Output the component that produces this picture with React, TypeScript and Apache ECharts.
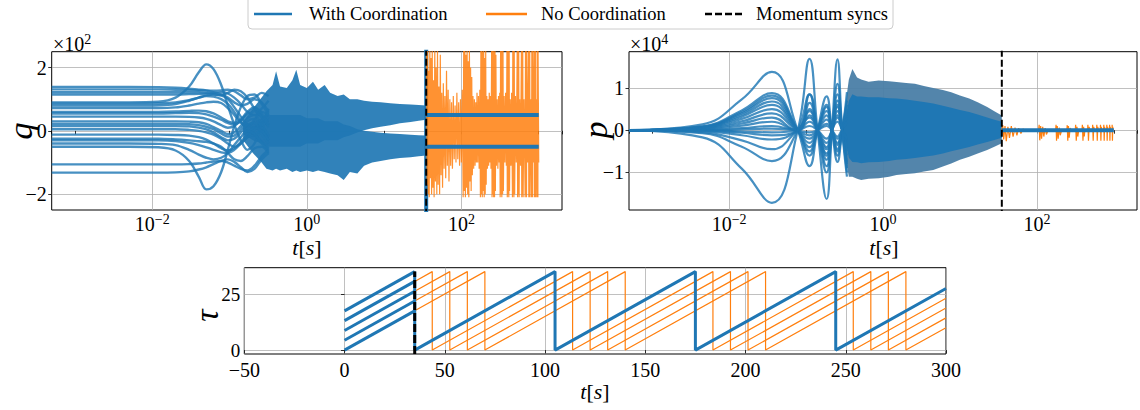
import { useEffect, useRef } from 'react';
import * as echarts from 'echarts';

const FONT = "'Liberation Serif', 'DejaVu Serif', serif";
const BLUE = '#1f77b4';
const ORANGE = '#ff7f0e';
const GRID_GRAY = '#b0b0b0';

// Shared time window of the two log-time panels [s]
const T_MIN = 0.0005;
const T_MAX = 2000;
const T_END = 1000;
const SYNC_T = 35;
const LABELLED_DECADES = [0.01, 1, 100];

// ---------- position q, in units of 10^2 ----------
const Q_T = [0.0005, 0.005, 0.012, 0.02, 0.03, 0.04, 0.05, 0.062, 0.078, 0.095, 0.115, 0.14, 0.17, 0.21, 0.26, 0.32];
const Q_AGENTS = [
  [1.39, 1.39, 1.38, 1.36, 1.33, 1.3, 1.28, 1.27, 1.28, 1.3, 1.25, 1.12, 1.0, 1.05, 1.2, 1.1],
  [1.31, 1.31, 1.31, 1.3, 1.29, 1.28, 1.27, 1.22, 1.15, 1.05, 0.9, 0.8, 0.85, 1.0, 0.9, 0.6],
  [1.22, 1.22, 1.22, 1.22, 1.22, 1.22, 1.2, 1.15, 1.12, 1.2, 1.3, 1.25, 1.05, 0.7, 0.4, 0.3],
  [1.15, 1.15, 1.15, 1.15, 1.16, 1.17, 1.18, 1.2, 1.22, 1.18, 1.05, 0.85, 0.6, 0.5, 0.7, 0.95],
  [0.9, 0.9, 0.92, 1.05, 1.4, 1.85, 2.1, 1.95, 1.45, 0.8, 0.2, -0.3, -0.6, -0.4, 0.2, 0.7],
  [0.86, 0.86, 0.87, 0.9, 0.97, 1.05, 1.1, 1.08, 1.0, 0.85, 0.6, 0.3, 0.05, -0.1, 0.1, 0.45],
  [0.8, 0.8, 0.81, 0.85, 0.95, 1.05, 1.12, 1.15, 1.12, 1.0, 0.75, 0.45, 0.2, 0.1, 0.3, 0.6],
  [0.72, 0.72, 0.72, 0.74, 0.8, 0.86, 0.9, 0.92, 0.88, 0.72, 0.5, 0.25, 0.15, 0.35, 0.6, 0.5],
  [0.6, 0.6, 0.6, 0.61, 0.63, 0.64, 0.62, 0.55, 0.42, 0.3, 0.25, 0.35, 0.55, 0.7, 0.5, 0.1],
  [0.55, 0.55, 0.55, 0.56, 0.57, 0.56, 0.52, 0.45, 0.35, 0.25, 0.2, 0.3, 0.5, 0.62, 0.45, 0.15],
  [0.45, 0.45, 0.45, 0.45, 0.44, 0.42, 0.38, 0.3, 0.18, 0.1, 0.15, 0.35, 0.6, 0.75, 0.55, 0.2],
  [0.3, 0.3, 0.3, 0.3, 0.29, 0.27, 0.22, 0.12, 0.0, -0.1, -0.05, 0.15, 0.4, 0.5, 0.2, -0.2],
  [0.22, 0.22, 0.22, 0.22, 0.21, 0.18, 0.13, 0.05, -0.08, -0.18, -0.15, 0.05, 0.3, 0.38, 0.1, -0.3],
  [0.15, 0.15, 0.15, 0.15, 0.14, 0.1, 0.05, -0.05, -0.2, -0.3, -0.25, -0.05, 0.2, 0.25, -0.1, -0.4],
  [0.05, 0.05, 0.05, 0.05, 0.03, 0.0, -0.05, -0.12, -0.25, -0.4, -0.5, -0.4, -0.2, 0.05, 0.1, -0.15],
  [-0.12, -0.12, -0.12, -0.13, -0.15, -0.2, -0.28, -0.4, -0.55, -0.62, -0.55, -0.35, -0.1, 0.1, 0.0, -0.3],
  [-0.25, -0.25, -0.25, -0.27, -0.3, -0.33, -0.35, -0.4, -0.5, -0.7, -0.9, -0.95, -0.8, -0.55, -0.5, -0.7],
  [-0.3, -0.3, -0.3, -0.32, -0.38, -0.45, -0.52, -0.6, -0.68, -0.7, -0.6, -0.4, -0.2, -0.15, -0.35, -0.55],
  [-0.4, -0.4, -0.41, -0.45, -0.6, -0.75, -0.85, -0.9, -0.85, -0.7, -0.45, -0.2, 0.0, -0.1, -0.4, -0.6],
  [-0.5, -0.5, -0.52, -0.62, -0.95, -1.45, -1.85, -1.75, -1.3, -0.6, 0.15, 0.75, 1.1, 1.15, 0.85, 0.5],
  [-1.06, -1.06, -1.06, -1.06, -1.05, -1.03, -1.0, -0.97, -0.95, -1.0, -1.1, -1.2, -1.25, -1.1, -0.8, -0.6],
  [-1.32, -1.32, -1.32, -1.31, -1.28, -1.22, -1.15, -1.05, -0.95, -0.9, -0.98, -1.15, -1.3, -1.2, -0.9, -0.7],
];

// Envelope of the fast oscillations before the sync (two clusters that separate late on)
const Q_BAND_T = [0.15, 0.2, 0.26, 0.3, 0.36, 0.4, 0.45, 0.55, 0.65, 0.73, 0.82, 1.0, 1.2, 1.4, 1.7, 2.0, 2.5, 3.0, 3.6, 4.5, 5.5, 7, 9, 12, 16, 22, 28, 35];
const Q_UP_HI = [0.3, 0.7, 1.05, 1.25, 1.45, 1.88, 1.4, 1.35, 1.6, 1.93, 1.45, 1.35, 1.55, 1.3, 1.45, 1.2, 1.1, 1.15, 1.0, 1.0, 0.95, 0.92, 0.9, 0.87, 0.85, 0.83, 0.82, 0.8];
const Q_UP_LO = [-0.1, -0.3, -0.4, -0.5, -0.5, -0.5, -0.5, -0.5, -0.5, -0.5, -0.5, -0.4, -0.4, -0.4, -0.3, -0.3, -0.3, -0.2, -0.15, -0.05, 0.02, 0.08, 0.13, 0.18, 0.24, 0.28, 0.32, 0.35];
const Q_DN_HI = [0.1, 0.3, 0.4, 0.5, 0.5, 0.5, 0.5, 0.5, 0.5, 0.5, 0.5, 0.4, 0.4, 0.4, 0.3, 0.3, 0.3, 0.2, 0.15, 0.05, 0.0, -0.03, -0.06, -0.08, -0.1, -0.12, -0.14, -0.15];
const Q_DN_LO = [-0.3, -0.7, -1.0, -1.2, -1.25, -1.2, -1.25, -1.2, -1.3, -1.25, -1.3, -1.25, -1.3, -1.25, -1.3, -1.35, -1.4, -1.55, -1.3, -1.35, -1.1, -1.0, -0.95, -0.9, -0.86, -0.83, -0.8, -0.78];

// Synchronised positions after the momentum sync
const Q_SYNC_LEVELS = [0.5, -0.5];

// Uncoordinated positions after t = 35 s: [t, q]
const ORANGE_Q: [number, number][] = [
  [35.3, 2.6], [35.9, -1.7], [36.5, 2.6], [37.1, -2.0], [37.7, 1.9], [38.3, -2.1], [39.0, 2.6], [39.7, -1.5],
  [40.4, 2.3], [41.1, -2.0], [41.9, 2.6], [42.7, -1.8], [43.5, 1.6], [44.3, -2.1], [45.2, 2.6], [46.1, -1.6],
  [47.0, 2.0], [48.0, -2.0], [49.0, 2.6], [50.0, -1.7], [51.1, 1.4], [52.2, -2.0], [53.3, 2.4], [54.5, -1.4],
  [55.7, 1.2], [57.0, -1.8], [58.3, 1.5], [59.7, -1.2], [61.1, 1.1], [62.6, -1.5], [64.1, 1.9], [65.7, -1.1],
  [67.3, 1.3], [69.0, -1.6], [70.8, 1.0], [72.6, -1.1], [74.5, 0.9], [76.5, -1.2], [78.5, 1.1], [80.6, -0.9],
  [82.8, 0.8], [85.0, -1.0], [87.3, 1.2], [89.7, -0.9], [92.1, 0.9], [94.6, -1.1], [97.2, 1.0], [99.8, -1.0],
  [102.5, 1.3], [105.2, -2.1], [107.0, 2.6], [108.8, -1.9], [110.6, 2.6], [112.5, -2.1], [114.4, 2.4], [116.4, -1.8],
  [118.4, 2.6], [120.4, -2.0], [122.5, 2.2], [124.6, -2.1], [126.8, 2.6], [129.0, -1.6], [131.3, 2.0], [133.6, -1.9],
  [136, 1.7], [138.4, -1.4], [141, 1.1], [144, -1.2], [147, 1.0], [150, -1.1], [153, 0.9], [156, -1.0],
  [159, 1.2], [162.5, -1.0], [166, 1.1], [169.5, -1.2], [173, 1.3], [176, -2.1], [178.5, 2.6], [181, -2.0],
  [183.5, 2.6], [186, -2.1], [188.5, 2.5], [191, -1.9], [194, 2.6], [197, -2.1], [200, 2.3], [203, -2.0],
  [206, 2.6], [209, -1.7], [213, 1.1], [217, -1.2], [221, 1.0], [225, -1.1], [229, 1.2], [233, -1.0],
  [237, 1.1], [241, -1.2], [246, 2.6], [249, -2.1], [252, 2.6], [255, -2.0], [258, 2.6], [261, -2.1],
  [264.5, 2.5], [268, -2.1], [271.5, 2.6], [275, -1.9], [279, 2.4], [284, -1.1], [290, 1.0], [296, -1.2],
  [302, 1.1], [308, -1.0], [313, 1.2], [317, -2.1], [321, 2.6], [325, -2.0], [329, 2.6], [333, -2.1],
  [337, 2.6], [341, -2.0], [345, 2.6], [349, -1.9], [357, 1.1], [365, -1.0], [373, 1.2], [381, -1.1],
  [388, 2.6], [392, -2.1], [396.5, 2.6], [401, -2.0], [405.5, 2.6], [410, -2.1], [414.5, 2.6], [419, -1.9],
  [428, 1.0], [437, -1.1], [446, 1.2], [457, -2.1], [462, 2.6], [467, -2.0], [472, 2.6], [477, -2.1],
  [482, 2.6], [488, -2.0], [500, 1.1], [512, -1.0], [527, 2.6], [533, -2.1], [539, 2.6], [545, -2.0],
  [551, 2.6], [557, -2.1], [568, 1.0], [582, -1.1], [597, 2.6], [603, -2.1], [609, 2.6], [615, -2.0],
  [621, 2.6], [628, -2.1], [645, 1.0], [667, -2.1], [674, 2.6], [681, -2.0], [688, 2.6], [695, -2.1],
  [700, 2.5], [718, -1.0], [737, 2.6], [744, -2.1], [751, 2.6], [758, -2.0], [765, 2.6], [770, -2.1],
  [788, 1.0], [807, -2.1], [814, 2.6], [821, -2.0], [828, 2.6], [835, -2.1], [840, 2.6], [858, -1.0],
  [877, 2.6], [884, -2.1], [891, 2.6], [898, -2.0], [905, 2.6], [910, -2.1], [928, 1.0], [947, -2.1],
  [954, 2.6], [961, -2.0], [968, 2.6], [975, -2.1], [980, 2.6], [1000, -1.0],
];

// ---------- momentum p, in units of 10^4 ----------
const P_T = [0.0005, 0.0045, 0.0146, 0.036, 0.078, 0.111, 0.141, 0.185, 0.217, 0.256, 0.295, 0.34];
const P_AGENTS = [
  [0, 0.14, 0.73, 1.38, 0, -0.85, 0, 0.8, 0, -0.75, 0, 0.7],
  [0, 0.09, 0.47, 0.88, 0, -0.6, 0, 0.55, 0, -0.5, 0, 0.9],
  [0, 0.08, 0.43, 0.82, 0, -0.5, 0, 0.45, 0, -0.6, 0, 0.5],
  [0, 0.08, 0.4, 0.76, 0, -0.4, 0, 0.6, 0, -0.3, 0, 0.35],
  [0, 0.07, 0.36, 0.68, 0, -0.3, 0, 0.35, 0, -0.2, 0, 0.6],
  [0, 0.06, 0.32, 0.6, 0, -0.2, 0, 0.25, 0, -0.45, 0, 0.3],
  [0, 0.05, 0.27, 0.5, 0, -0.12, 0, 0.15, 0, -0.35, 0, 0.2],
  [0, 0.04, 0.21, 0.4, 0, -0.05, 0, 0.1, 0, -0.15, 0, -0.3],
  [0, 0.03, 0.16, 0.3, 0, 0.1, 0, -0.2, 0, 0.3, 0, -0.45],
  [0, 0.02, 0.11, 0.2, 0, 0.2, 0, -0.3, 0, 0.45, 0, -0.6],
  [0, 0.01, 0.05, 0.1, 0, 0.35, 0, -0.45, 0, 0.55, 0, -0.75],
  [0, 0, 0.02, 0.04, 0, 0.5, 0, -0.6, 0, 0.7, 0, -0.8],
  [0, 0, -0.03, -0.05, 0, 0.65, 0, -0.85, 0, 0.85, 0, -0.9],
  [0, -0.01, -0.06, -0.12, 0, 0.85, 0, -0.55, 0, 0.6, 0, -0.5],
  [0, -0.02, -0.12, -0.22, 0, 0.45, 0, -0.7, 0, 0.35, 0, -0.4],
  [0, -0.05, -0.24, -0.45, 0, 0.3, 0, -0.4, 0, 0.2, 0, -0.2],
  [0, -0.07, -0.39, -0.73, 0, 0.85, 0, -1.0, 0, 1.1, 0, -1.0],
  [0, -0.17, -0.91, -1.72, 0, 1.69, 0, -1.63, 0, 1.68, 0, -1.1],
];

// Envelope (outer) and dense core of the momentum oscillations before the sync
const P_BAND_T = [0.3, 0.33, 0.36, 0.4, 0.46, 0.52, 0.65, 0.88, 1.2, 1.5, 2.0, 2.6, 3.4, 4.5, 6, 7.7, 10, 13.2, 17, 22.6, 28, 35];
const P_BAND_HI = [0.1, 0.7, 1.2, 1.45, 1.25, 1.2, 1.15, 1.18, 1.16, 1.14, 1.12, 1.1, 1.05, 1.0, 0.95, 0.9, 0.82, 0.75, 0.66, 0.55, 0.45, 0.35];
const P_BAND_LO = [-0.1, -0.7, -1.1, -1.1, -1.15, -1.18, -1.15, -1.14, -1.1, -1.06, -1.04, -1.02, -0.98, -0.94, -0.86, -0.79, -0.7, -0.63, -0.55, -0.47, -0.39, -0.31];
const P_CORE_HI = [0.05, 0.3, 0.7, 0.85, 0.8, 0.8, 0.78, 0.78, 0.76, 0.75, 0.73, 0.7, 0.67, 0.63, 0.58, 0.53, 0.48, 0.43, 0.37, 0.3, 0.25, 0.2];
const P_CORE_LO = [-0.05, -0.3, -0.65, -0.75, -0.76, -0.78, -0.76, -0.75, -0.73, -0.7, -0.68, -0.66, -0.63, -0.6, -0.55, -0.5, -0.45, -0.4, -0.34, -0.28, -0.23, -0.18];

// Uncoordinated momenta after t = 35 s: [t, p]
const ORANGE_P: [number, number][] = [
  [35, 0], [36, 0.12], [37, -0.22], [38.5, 0.1], [40, -0.26], [42, 0.08], [44, -0.18], [46.5, 0.1],
  [49, -0.15], [52, 0.06], [55, -0.12], [58, 0.05], [62, -0.08], [66, 0.03], [70, 0], [105, 0],
  [107, 0.13], [109, -0.24], [112, 0.1], [115, -0.2], [119, 0.08], [123, -0.15], [128, 0.05], [133, -0.1],
  [140, 0], [175, 0], [177.5, 0.13], [180, -0.25], [184, 0.1], [189, -0.2], [195, 0.06], [201, -0.12],
  [210, 0], [245, 0], [248, 0.12], [252, -0.25], [257, 0.1], [263, -0.18], [270, 0.05], [280, 0],
  [315, 0], [319, 0.13], [325, -0.25], [332, 0.08], [340, -0.15], [350, 0], [385, 0], [390, 0.13],
  [397, -0.25], [405, 0.08], [413, -0.15], [420, 0], [455, 0], [460, 0.13], [468, -0.25], [477, 0.08],
  [490, 0], [525, 0], [531, 0.13], [539, -0.25], [548, 0.08], [560, 0], [595, 0], [601, 0.13],
  [609, -0.25], [618, 0.08], [630, 0], [665, 0], [671, 0.13], [679, -0.25], [688, 0.08], [700, 0],
  [735, 0], [741, 0.13], [749, -0.25], [758, 0.08], [770, 0], [805, 0], [811, 0.13], [819, -0.25],
  [828, 0.08], [840, 0], [875, 0], [881, 0.13], [889, -0.25], [898, 0.08], [910, 0], [945, 0],
  [951, 0.13], [959, -0.25], [968, 0.08], [980, 0], [1000, 0],
];

// ---------- clock phase tau ----------
const TAU_BEFORE: [number, number][][] = [
  [[0, 0], [35, 17.5]],
  [[0, 4.375], [35, 21.875]],
  [[0, 8.75], [35, 26.25]],
  [[0, 13.125], [35, 30.625]],
  [[0, 17.5], [35, 35]],
];
const TAU_SYNCED: [number, number][] = [
  [35, 35], [35, 0], [105, 35], [105, 0], [175, 35], [175, 0], [245, 35], [245, 0], [300, 27.5],
];
const TAU_FREE: [number, number][][] = [
  [[35, 17.5], [70, 35], [70, 0], [140, 35], [140, 0], [210, 35], [210, 0], [280, 35], [280, 0], [300, 10]],
  [[35, 21.875], [61.25, 35], [61.25, 0], [131.25, 35], [131.25, 0], [201.25, 35], [201.25, 0], [271.25, 35], [271.25, 0], [300, 14.375]],
  [[35, 26.25], [52.5, 35], [52.5, 0], [122.5, 35], [122.5, 0], [192.5, 35], [192.5, 0], [262.5, 35], [262.5, 0], [300, 18.75]],
  [[35, 30.625], [43.75, 35], [43.75, 0], [113.75, 35], [113.75, 0], [183.75, 35], [183.75, 0], [253.75, 35], [253.75, 0], [300, 23.125]],
  [[35, 35], [35, 0], [105, 35], [105, 0], [175, 35], [175, 0], [245, 35], [245, 0], [300, 27.5]],
];

const minus = (v: number) => (v < 0 ? '\u2212' + String(-v) : String(v));

// "10" with a raised exponent
const supRich = {
  b: { fontSize: 20, fontFamily: FONT, lineHeight: 22, verticalAlign: 'bottom', color: '#000' },
  s: { fontSize: 14, fontFamily: FONT, lineHeight: 12, verticalAlign: 'top', color: '#000' },
};

function logAxis(gridIndex: number) {
  return {
    type: 'log',
    logBase: 10,
    gridIndex,
    min: T_MIN,
    max: T_MAX,
    axisLine: { show: false },
    axisTick: { show: true, length: 3.5, lineStyle: { color: '#000', width: 0.8 } },
    splitLine: { show: false },
    minorTick: { show: false },
    axisLabel: {
      margin: 2,
      fontSize: 20,
      lineHeight: 22,
      fontFamily: FONT,
      color: '#000',
      formatter: (v: number) => {
        const l = Math.log10(v);
        const e = Math.round(l);
        if (Math.abs(l - e) > 0.01 || !LABELLED_DECADES.some((d) => Math.abs(Math.log10(d) - e) < 0.01)) return '';
        return `{b|10}{s|${minus(e)}}`;
      },
      rich: supRich,
    },
  };
}

function valueYAxis(gridIndex: number, min: number, max: number, ticks: number[], margin: number, fontSize = 20) {
  return {
    type: 'value',
    gridIndex,
    min,
    max,
    axisLine: { show: false },
    axisTick: { show: true, length: 3.5, customValues: ticks, lineStyle: { color: '#000', width: 0.8 } },
    axisLabel: { customValues: ticks, margin, fontSize, lineHeight: 12, fontFamily: FONT, color: '#000', formatter: minus },
    splitLine: { show: true, lineStyle: { color: GRID_GRAY, width: 0.8 } },
  };
}

function band(xi: number, ts: number[], hi: number[], lo: number[], color: string, opacity: number, z: number) {
  return {
    type: 'custom',
    coordinateSystem: 'cartesian2d',
    xAxisIndex: xi,
    yAxisIndex: xi,
    silent: true,
    z,
    data: [[ts[0], 0]],
    renderItem: (_p: any, api: any) => {
      const pts: number[][] = [];
      for (let i = 0; i < ts.length; i++) pts.push(api.coord([ts[i], hi[i]]));
      for (let i = ts.length - 1; i >= 0; i--) pts.push(api.coord([ts[i], lo[i]]));
      return { type: 'polygon', shape: { points: pts }, style: { fill: color, opacity } };
    },
  };
}

function line(xi: number, data: any[], color: string, width: number, z: number, extra: any = {}) {
  const { lineStyle, ...rest } = extra;
  return {
    type: 'line',
    xAxisIndex: xi,
    yAxisIndex: xi,
    data,
    symbol: 'none',
    showSymbol: false,
    silent: true,
    z,
    ...rest,
    lineStyle: { color, width, ...(lineStyle || {}) },
  };
}

// vertical grid lines at the labelled decades of a log-time panel
function decadeGrid(xi: number) {
  return {
    type: 'line',
    xAxisIndex: xi,
    yAxisIndex: xi,
    data: [],
    silent: true,
    z: 1,
    markLine: {
      silent: true,
      z: 1,
      symbol: ['none', 'none'],
      label: { show: false },
      animation: false,
      lineStyle: { color: GRID_GRAY, width: 0.8, type: 'solid' },
      data: LABELLED_DECADES.map((d) => ({ xAxis: d })),
    },
  };
}

function buildOption() {
  const series: any[] = [];

  // ---- q panel ----
  series.push(decadeGrid(0));
  series.push(band(0, Q_BAND_T, Q_UP_HI, Q_UP_LO, BLUE, 0.92, 2));
  series.push(band(0, Q_BAND_T, Q_DN_HI, Q_DN_LO, BLUE, 0.92, 2));
  Q_AGENTS.forEach((vals) => {
    series.push(line(0, Q_T.map((t, i) => [t, vals[i]]), BLUE, 2.4, 3, { smooth: 0.35, lineStyle: { opacity: 0.82 } }));
  });
  series.push(line(0, [[SYNC_T, -3], [SYNC_T, 3]], BLUE, 4, 4));
  series.push(line(0, ORANGE_Q, ORANGE, 1.2, 4, { lineStyle: { opacity: 0.85 } }));
  Q_SYNC_LEVELS.forEach((q) => series.push(line(0, [[SYNC_T, q], [T_END, q]], BLUE, 4, 5)));
  series.push(line(0, [[SYNC_T, -3], [SYNC_T, 3]], '#000', 2, 6, { lineStyle: { type: [7, 3] } }));

  // ---- p panel ----
  series.push(decadeGrid(1));
  series.push(band(1, P_BAND_T, P_BAND_HI, P_BAND_LO, '#4a7ea6', 0.95, 2));
  series.push(band(1, P_BAND_T, P_CORE_HI, P_CORE_LO, BLUE, 1, 2));
  P_AGENTS.forEach((vals) => {
    series.push(line(1, P_T.map((t, i) => [t, vals[i]]), BLUE, 2.2, 3, { smooth: 0.45, lineStyle: { opacity: 0.82 } }));
  });
  series.push(line(1, ORANGE_P, ORANGE, 1.2, 4));
  series.push(line(1, [[SYNC_T, 0], [T_END, 0]], BLUE, 4, 5));
  series.push(line(1, [[SYNC_T, -3], [SYNC_T, 3]], '#000', 2, 6, { lineStyle: { type: [7, 3] } }));

  // ---- tau panel ----
  TAU_FREE.forEach((d) => series.push(line(2, d, ORANGE, 1.2, 3)));
  TAU_BEFORE.forEach((d) => series.push(line(2, d, BLUE, 3, 4)));
  series.push(line(2, TAU_SYNCED, BLUE, 3, 4));
  series.push(line(2, [[SYNC_T, -1.75], [SYNC_T, 35]], '#000', 3, 6, { lineStyle: { type: [8, 3] } }));

  const italic = (size: number) => ({ fontStyle: 'italic', fontSize: size, fontFamily: FONT, color: '#000' });
  const axisTitle = (x: number, y: number, text: string, size: number, rotate: boolean, rich?: any) => ({
    type: 'text',
    x,
    y,
    rotation: rotate ? Math.PI / 2 : 0,
    z: 20,
    style: { text, fontSize: size, lineHeight: size - 4, fontFamily: FONT, fill: '#000', align: 'center', verticalAlign: 'middle', rich },
  });
  const tRich = { i: italic(22) };
  const legendText = (x: number, text: string) => ({
    type: 'text', z: 21, x, y: 14,
    style: { text, fontSize: 18.5, fontFamily: FONT, fill: '#000', verticalAlign: 'middle' },
  });

  return {
    animation: false,
    textStyle: { fontFamily: FONT },
    grid: [
      { left: 51.7, top: 51.7, width: 510.3, height: 158.3, show: true, borderColor: '#000', borderWidth: 1, backgroundColor: 'transparent' },
      { left: 629, top: 51.7, width: 509.5, height: 158.3, show: true, borderColor: '#000', borderWidth: 1, backgroundColor: 'transparent' },
      { left: 244.3, top: 267.7, width: 701.7, height: 86.3, show: true, borderColor: '#000', borderWidth: 1, backgroundColor: 'transparent' },
    ],
    xAxis: [
      logAxis(0),
      logAxis(1),
      {
        type: 'value',
        gridIndex: 2,
        min: -50,
        max: 300,
        interval: 50,
        axisLine: { show: false },
        axisTick: { show: true, length: 3.5, lineStyle: { color: '#000', width: 0.8 } },
        axisLabel: { margin: 9, fontSize: 20, lineHeight: 14, fontFamily: FONT, color: '#000', formatter: minus },
        splitLine: { show: true, lineStyle: { color: GRID_GRAY, width: 0.8 } },
      },
    ],
    yAxis: [
      valueYAxis(0, -2.5, 2.5, [-2, 0, 2], 5),
      valueYAxis(1, -1.89, 1.86, [-1, 0, 1], 5),
      valueYAxis(2, -1.75, 36.75, [0, 25], 4, 19),
    ],
    series,
    graphic: [
      // legend
      { type: 'rect', z: 20, shape: { x: 248, y: -4, width: 645, height: 33, r: 4 }, style: { fill: 'rgba(255,255,255,0.8)', stroke: '#cccccc', lineWidth: 1 } },
      { type: 'line', z: 21, shape: { x1: 254, y1: 14, x2: 292, y2: 14 }, style: { stroke: BLUE, lineWidth: 2.5 } },
      legendText(309, 'With Coordination'),
      { type: 'line', z: 21, shape: { x1: 486, y1: 14, x2: 527, y2: 14 }, style: { stroke: ORANGE, lineWidth: 2.5 } },
      legendText(541, 'No Coordination'),
      { type: 'line', z: 21, shape: { x1: 705, y1: 14, x2: 742, y2: 14 }, style: { stroke: '#000', lineWidth: 2.5, lineDash: [7, 3] } },
      legendText(756, 'Momentum syncs'),
      // exponent factors of the two upper panels
      { type: 'text', z: 20, x: 53, y: 32, style: { text: '{b|\u00d710}{s|2}', rich: supRich, align: 'left', verticalAlign: 'top' } },
      { type: 'text', z: 20, x: 630, y: 32, style: { text: '{b|\u00d710}{s|4}', rich: supRich, align: 'left', verticalAlign: 'top' } },
      // axis titles
      axisTitle(20.5, 131, '{i|q}', 34, true, { i: italic(34) }),
      axisTitle(595, 130, '{i|p}', 34, true, { i: italic(34) }),
      axisTitle(206, 315.7, '{i|\u03c4}', 34, true, { i: italic(34) }),
      axisTitle(307, 247, '{i|t}[{i|s}]', 22, false, tRich),
      axisTitle(884, 247, '{i|t}[{i|s}]', 22, false, tRich),
      axisTitle(595, 391, '{i|t}[{i|s}]', 22, false, tRich),
    ],
  };
}

export default function App() {
  const ref = useRef<HTMLDivElement>(null);
  useEffect(() => {
    if (!ref.current) return;
    const chart = echarts.init(ref.current, null, { renderer: 'svg' });
    chart.setOption(buildOption() as any);
    return () => chart.dispose();
  }, []);
  return <div ref={ref} style={{ position: 'fixed', left: 0, top: 0, width: 1140, height: 410, background: '#fff' }} />;
}
